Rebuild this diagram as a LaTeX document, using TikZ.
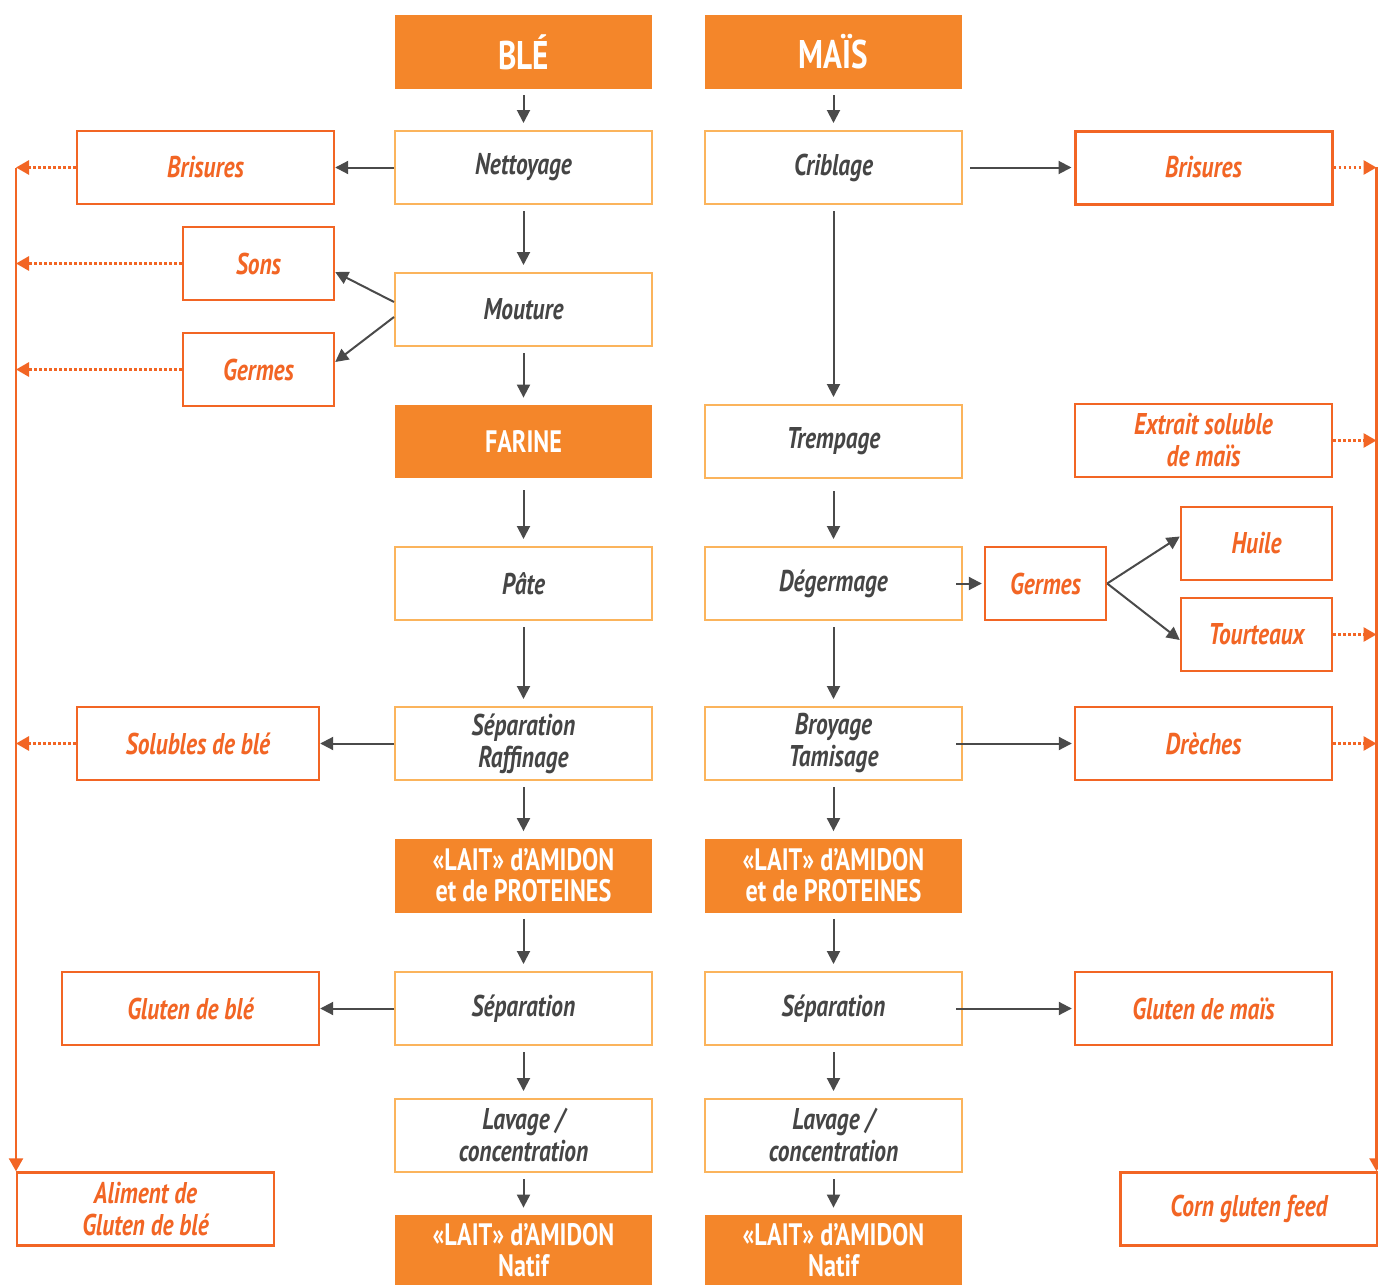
\documentclass[tikz,border=0pt]{standalone}
\usepackage{fontspec}
\setmainfont{PT Sans}[FakeStretch=0.78]
\usetikzlibrary{arrows.meta}
\definecolor{hdr}{HTML}{F4862A}
\definecolor{procline}{HTML}{FBB45C}
\definecolor{prod}{HTML}{F26524}
\definecolor{arr}{HTML}{4A4A4A}
\definecolor{proctext}{HTML}{454545}
\begin{document}
\begin{tikzpicture}[x=0.5pt,y=-0.5pt,
  box/.style={rectangle, inner sep=0pt, align=center,
    font=\bfseries\itshape\fontsize{15}{16}\selectfont},
  proc/.style={box, draw=procline, line width=1pt, text=proctext,
    minimum width=128.5pt, minimum height=36.5pt},
  prodbox/.style={box, draw=prod, line width=1.2pt, text=prod,
    minimum width=128.5pt, minimum height=36.5pt},
  head/.style={rectangle, fill=hdr, text=white, inner sep=0pt, align=center,
    font=\bfseries\fontsize{15.5}{15.5}\selectfont,
    minimum width=128.5pt, minimum height=37pt},
  flow/.style={draw=arr, line width=1pt, -{Triangle[length=6.5pt,width=6.5pt]}},
  down/.style={flow, shorten <=3pt, shorten >=3.5pt},
  outflow/.style={draw=prod, line width=1.4pt, dash pattern=on 1.3pt off 1.2pt,
    -{Triangle[length=6.5pt,width=7pt]}},
  rail/.style={draw=prod, line width=1.25pt, -{Triangle[length=6.5pt,width=7pt]}}
]
\useasboundingbox[fill=white] (0,0) rectangle (1378,1285);

% ---- headers and main columns
\node[head, font=\bfseries\fontsize{20}{20}\selectfont] (ble)  at (523.5,52) {BLÉ};
\node[head, font=\bfseries\fontsize{20}{20}\selectfont] (mais) at (833.5,52) {MAÏS};

\node[proc] (nett)   at (523.5,167.5) {Nettoyage};
\node[proc] (crib)   at (833.5,167.5) {Criblage};
\node[proc] (mout)   at (523.5,309.5) {Mouture};
\node[head, minimum height=36.5pt] (farine) at (523.5,441.5) {FARINE};
\node[proc] (tremp)  at (833.5,441.5) {Trempage};
\node[proc] (pate)   at (523.5,583.5) {Pâte};
\node[proc] (degerm) at (833.5,583.5) {Dégermage};
\node[proc] (sepr)   at (523.5,743.5) {Séparation\\Raffinage};
\node[proc] (broy)   at (833.5,743.5) {Broyage\\Tamisage};
\node[head] (laitL)  at (523.5,875.5) {«LAIT» d’AMIDON\\et de PROTEINES};
\node[head] (laitR)  at (833.5,875.5) {«LAIT» d’AMIDON\\et de PROTEINES};
\node[proc] (sepL)   at (523.5,1008.5) {Séparation};
\node[proc] (sepM)   at (833.5,1008.5) {Séparation};
\node[proc] (lavL)   at (523.5,1135.5) {Lavage /\\concentration};
\node[proc] (lavR)   at (833.5,1135.5) {Lavage /\\concentration};
\node[head, minimum height=35pt] (natL) at (523.5,1250) {«LAIT» d’AMIDON\\Natif};
\node[head, minimum height=35pt] (natR) at (833.5,1250) {«LAIT» d’AMIDON\\Natif};

% ---- by-products
\node[prodbox] (brisL) at (205.5,167.5) {Brisures};
\node[prodbox, line width=1.5pt] (brisR) at (1203.5,167.5) {Brisures};
\node[prodbox, minimum width=75.5pt] (sons)  at (258.5,263.5) {Sons};
\node[prodbox, minimum width=75.5pt] (germL) at (258.5,369.5) {Germes};
\node[prodbox] (extr) at (1203.5,440.5) {Extrait soluble\\de maïs};
\node[prodbox, minimum width=60.5pt] (germR) at (1045.5,583.5) {Germes};
\node[prodbox, minimum width=75.5pt] (huile) at (1256.5,543.5) {Huile};
\node[prodbox, minimum width=75.5pt] (tourt) at (1256.5,634.5) {Tourteaux};
\node[prodbox, minimum width=121pt] (sol) at (198,743.5) {Solubles de blé};
\node[prodbox] (drech) at (1203.5,743.5) {Drèches};
\node[prodbox] (glutL) at (190.5,1008.5) {Gluten de blé};
\node[prodbox] (glutR) at (1203.5,1008.5) {Gluten de maïs};
\node[prodbox] (alim) at (145.5,1209) {Aliment de\\Gluten de blé};
\node[prodbox] (corn) at (1249,1209) {Corn gluten feed};

% ---- side rails
\coordinate (ltop) at (16,168);
\coordinate (rtop) at (1376.5,167);
\draw[rail] (ltop) -- (ltop |- alim.north);
\draw[rail] (rtop) -- (rtop |- corn.north);

% ---- wheat line
\draw[down] (ble) -- (nett);
\draw[flow] (nett.west) -- (brisL.east);
\draw[down] (nett) -- (mout);
\draw[flow] ([yshift=3.75pt]mout.west) -- ([yshift=-4.25pt]sons.east);
\draw[flow] ([yshift=-3.75pt]mout.west) -- ([yshift=3.75pt]germL.east);
\draw[down] (mout) -- (farine);
\draw[down, shorten <=6pt] (farine) -- (pate);
\draw[down] (pate) -- (sepr);
\draw[flow] (sepr.west) -- (sol.east);
\draw[down] (sepr) -- (laitL);
\draw[down] (laitL) -- (sepL);
\draw[flow] (sepL.west) -- (glutL.east);
\draw[down] (sepL) -- (lavL);
\draw[down] (lavL) -- (natL);

% ---- maize line
\draw[down] (mais) -- (crib);
\draw[flow, shorten <=3.5pt, shorten >=1pt] (crib.east) -- (brisR.west);
\draw[down] (crib) -- (tremp);
\draw[down, shorten <=6pt] (tremp) -- (degerm);
\draw[flow, shorten <=-3.5pt, shorten >=1pt] (degerm.east) -- (germR.west);
\draw[flow] (germR.east) -- ([yshift=3.5pt]huile.west);
\draw[flow] (germR.east) -- ([yshift=-2.75pt]tourt.west);
\draw[down] (degerm) -- (broy);
\draw[flow, shorten <=-3.5pt, shorten >=1pt] (broy.east) -- (drech.west);
\draw[down] (broy) -- (laitR);
\draw[down] (laitR) -- (sepM);
\draw[flow, shorten <=-3.5pt, shorten >=1pt] (sepM.east) -- (glutR.west);
\draw[down] (sepM) -- (lavR);
\draw[down] (lavR) -- (natR);

% ---- by-products sent to the feed rails
\draw[outflow] (brisL.west) -- (brisL.west -| ltop);
\draw[outflow] (sons.west)  -- (sons.west -| ltop);
\draw[outflow] (germL.west) -- (germL.west -| ltop);
\draw[outflow] (sol.west)   -- (sol.west -| ltop);
\draw[outflow] (brisR.east) -- (brisR.east -| rtop);
\draw[outflow] (extr.east)  -- (extr.east -| rtop);
\draw[outflow] (tourt.east) -- (tourt.east -| rtop);
\draw[outflow] (drech.east) -- (drech.east -| rtop);
\end{tikzpicture}
\end{document}
